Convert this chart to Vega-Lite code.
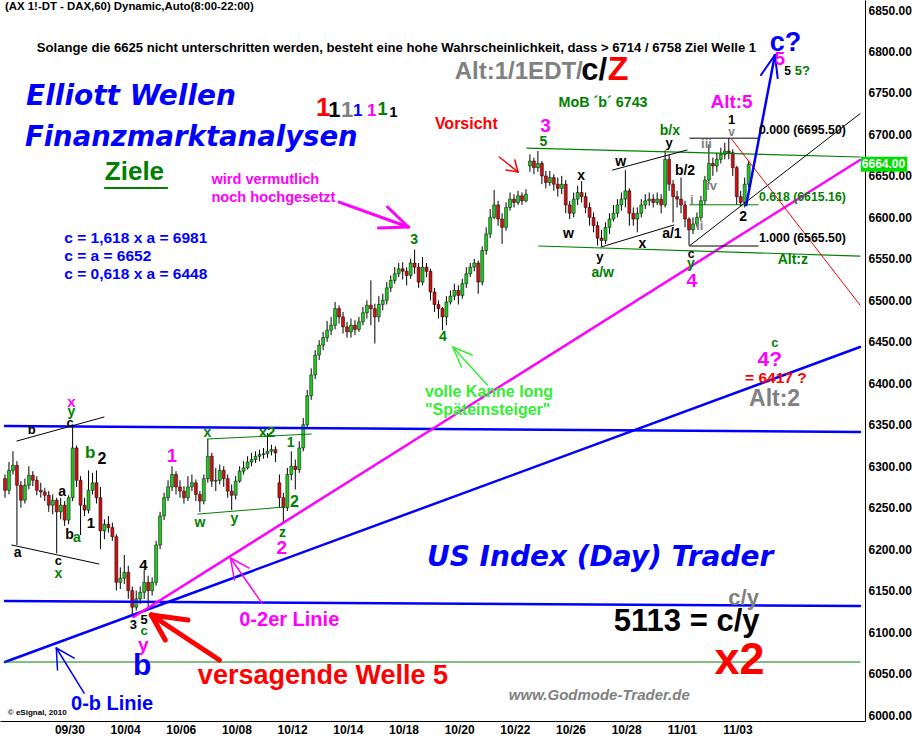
{
  "$schema": "https://vega.github.io/schema/vega-lite/v6.json",
  "width": 865,
  "height": 721,
  "autosize": "none",
  "padding": {"left": 0, "top": 0, "right": 50, "bottom": 18},
  "background": "#ffffff",
  "config": {"view": {"stroke": null}},
  "datasets": {
    "candles": [
      {"i":0,"o":6285,"h":6290,"l":6262,"c":6271},{"i":1,"o":6271,"h":6305,"l":6266,"c":6295},{"i":2,"o":6295,"h":6318,"l":6290,"c":6301},{"i":3,"o":6301,"h":6306,"l":6205,"c":6277},{"i":4,"o":6277,"h":6282,"l":6250,"c":6259},{"i":5,"o":6259,"h":6285,"l":6255,"c":6277},{"i":6,"o":6277,"h":6300,"l":6272,"c":6289},{"i":7,"o":6289,"h":6294,"l":6276,"c":6283},{"i":8,"o":6283,"h":6288,"l":6265,"c":6271},{"i":9,"o":6271,"h":6280,"l":6262,"c":6269},
      {"i":10,"o":6269,"h":6274,"l":6258,"c":6265},{"i":11,"o":6265,"h":6270,"l":6245,"c":6253},{"i":12,"o":6253,"h":6266,"l":6242,"c":6259},{"i":13,"o":6259,"h":6262,"l":6195,"c":6245},{"i":14,"o":6245,"h":6262,"l":6236,"c":6253},{"i":15,"o":6253,"h":6258,"l":6228,"c":6235},{"i":16,"o":6235,"h":6265,"l":6230,"c":6262},{"i":17,"o":6262,"h":6350,"l":6258,"c":6322},{"i":18,"o":6322,"h":6325,"l":6275,"c":6283},{"i":19,"o":6283,"h":6288,"l":6217,"c":6253},
      {"i":20,"o":6253,"h":6262,"l":6240,"c":6247},{"i":21,"o":6247,"h":6295,"l":6243,"c":6271},{"i":22,"o":6271,"h":6292,"l":6266,"c":6280},{"i":23,"o":6280,"h":6295,"l":6255,"c":6262},{"i":24,"o":6262,"h":6275,"l":6200,"c":6222},{"i":25,"o":6222,"h":6236,"l":6212,"c":6230},{"i":26,"o":6230,"h":6240,"l":6220,"c":6226},{"i":27,"o":6226,"h":6232,"l":6210,"c":6215},{"i":28,"o":6215,"h":6218,"l":6150,"c":6160},{"i":29,"o":6160,"h":6178,"l":6152,"c":6165},
      {"i":30,"o":6165,"h":6193,"l":6158,"c":6172},{"i":31,"o":6172,"h":6180,"l":6140,"c":6150},{"i":32,"o":6150,"h":6155,"l":6120,"c":6130},{"i":33,"o":6130,"h":6150,"l":6126,"c":6140},{"i":34,"o":6140,"h":6155,"l":6134,"c":6148},{"i":35,"o":6148,"h":6175,"l":6140,"c":6160},{"i":36,"o":6160,"h":6168,"l":6127,"c":6150},{"i":37,"o":6150,"h":6166,"l":6144,"c":6160},{"i":38,"o":6160,"h":6210,"l":6156,"c":6205},{"i":39,"o":6205,"h":6245,"l":6200,"c":6240},
      {"i":40,"o":6240,"h":6268,"l":6235,"c":6262},{"i":41,"o":6262,"h":6283,"l":6258,"c":6275},{"i":42,"o":6275,"h":6300,"l":6270,"c":6290},{"i":43,"o":6290,"h":6294,"l":6266,"c":6275},{"i":44,"o":6275,"h":6283,"l":6262,"c":6270},{"i":45,"o":6270,"h":6276,"l":6255,"c":6262},{"i":46,"o":6262,"h":6288,"l":6258,"c":6275},{"i":47,"o":6275,"h":6290,"l":6270,"c":6280},{"i":48,"o":6280,"h":6284,"l":6258,"c":6266},{"i":49,"o":6266,"h":6270,"l":6245,"c":6258},
      {"i":50,"o":6258,"h":6290,"l":6254,"c":6285},{"i":51,"o":6285,"h":6333,"l":6280,"c":6312},{"i":52,"o":6312,"h":6316,"l":6275,"c":6282},{"i":53,"o":6282,"h":6298,"l":6270,"c":6283},{"i":54,"o":6283,"h":6302,"l":6278,"c":6295},{"i":55,"o":6295,"h":6300,"l":6275,"c":6285},{"i":56,"o":6285,"h":6290,"l":6262,"c":6270},{"i":57,"o":6270,"h":6278,"l":6247,"c":6265},{"i":58,"o":6265,"h":6288,"l":6260,"c":6282},{"i":59,"o":6282,"h":6300,"l":6280,"c":6294},
      {"i":60,"o":6294,"h":6306,"l":6290,"c":6298},{"i":61,"o":6298,"h":6312,"l":6296,"c":6305},{"i":62,"o":6305,"h":6316,"l":6300,"c":6308},{"i":63,"o":6308,"h":6318,"l":6304,"c":6312},{"i":64,"o":6312,"h":6320,"l":6306,"c":6314},{"i":65,"o":6314,"h":6322,"l":6309,"c":6315},{"i":66,"o":6315,"h":6340,"l":6310,"c":6318},{"i":67,"o":6318,"h":6326,"l":6313,"c":6320},{"i":68,"o":6320,"h":6324,"l":6305,"c":6316},{"i":69,"o":6280,"h":6290,"l":6250,"c":6262},
      {"i":70,"o":6262,"h":6268,"l":6231,"c":6250},{"i":71,"o":6250,"h":6298,"l":6246,"c":6290},{"i":72,"o":6290,"h":6318,"l":6283,"c":6300},{"i":73,"o":6300,"h":6308,"l":6272,"c":6296},{"i":74,"o":6296,"h":6330,"l":6292,"c":6322},{"i":75,"o":6322,"h":6358,"l":6318,"c":6350},{"i":76,"o":6350,"h":6392,"l":6345,"c":6385},{"i":77,"o":6385,"h":6418,"l":6380,"c":6410},{"i":78,"o":6410,"h":6440,"l":6405,"c":6434},{"i":79,"o":6434,"h":6452,"l":6428,"c":6446},
      {"i":80,"o":6446,"h":6462,"l":6440,"c":6455},{"i":81,"o":6455,"h":6475,"l":6450,"c":6464},{"i":82,"o":6464,"h":6480,"l":6458,"c":6470},{"i":83,"o":6470,"h":6498,"l":6465,"c":6490},{"i":84,"o":6490,"h":6494,"l":6472,"c":6480},{"i":85,"o":6480,"h":6486,"l":6460,"c":6468},{"i":86,"o":6468,"h":6474,"l":6455,"c":6462},{"i":87,"o":6462,"h":6478,"l":6455,"c":6470},{"i":88,"o":6470,"h":6476,"l":6458,"c":6465},{"i":89,"o":6465,"h":6480,"l":6462,"c":6474},
      {"i":90,"o":6474,"h":6492,"l":6470,"c":6485},{"i":91,"o":6485,"h":6500,"l":6478,"c":6494},{"i":92,"o":6494,"h":6524,"l":6470,"c":6490},{"i":93,"o":6490,"h":6496,"l":6448,"c":6480},{"i":94,"o":6480,"h":6505,"l":6474,"c":6495},{"i":95,"o":6495,"h":6508,"l":6488,"c":6500},{"i":96,"o":6500,"h":6522,"l":6495,"c":6515},{"i":97,"o":6515,"h":6530,"l":6510,"c":6524},{"i":98,"o":6524,"h":6540,"l":6520,"c":6532},{"i":99,"o":6532,"h":6545,"l":6528,"c":6538},
      {"i":100,"o":6538,"h":6546,"l":6525,"c":6535},{"i":101,"o":6535,"h":6540,"l":6518,"c":6530},{"i":102,"o":6530,"h":6550,"l":6526,"c":6545},{"i":103,"o":6545,"h":6561,"l":6532,"c":6540},{"i":104,"o":6540,"h":6545,"l":6515,"c":6522},{"i":105,"o":6522,"h":6552,"l":6518,"c":6540},{"i":106,"o":6540,"h":6545,"l":6528,"c":6535},{"i":107,"o":6535,"h":6538,"l":6500,"c":6510},{"i":108,"o":6510,"h":6515,"l":6486,"c":6495},{"i":109,"o":6495,"h":6500,"l":6478,"c":6490},
      {"i":110,"o":6490,"h":6492,"l":6464,"c":6480},{"i":111,"o":6480,"h":6505,"l":6470,"c":6498},{"i":112,"o":6498,"h":6512,"l":6495,"c":6505},{"i":113,"o":6505,"h":6520,"l":6500,"c":6512},{"i":114,"o":6512,"h":6518,"l":6495,"c":6506},{"i":115,"o":6506,"h":6526,"l":6502,"c":6520},{"i":116,"o":6520,"h":6540,"l":6515,"c":6532},{"i":117,"o":6532,"h":6545,"l":6528,"c":6540},{"i":118,"o":6540,"h":6550,"l":6535,"c":6545},{"i":119,"o":6545,"h":6548,"l":6508,"c":6522},
      {"i":120,"o":6522,"h":6565,"l":6518,"c":6560},{"i":121,"o":6560,"h":6588,"l":6555,"c":6580},{"i":122,"o":6580,"h":6610,"l":6575,"c":6600},{"i":123,"o":6600,"h":6633,"l":6598,"c":6615},{"i":124,"o":6615,"h":6620,"l":6590,"c":6598},{"i":125,"o":6598,"h":6605,"l":6568,"c":6588},{"i":126,"o":6588,"h":6618,"l":6584,"c":6612},{"i":127,"o":6612,"h":6630,"l":6608,"c":6622},{"i":128,"o":6622,"h":6628,"l":6612,"c":6618},{"i":129,"o":6618,"h":6632,"l":6615,"c":6626},
      {"i":130,"o":6626,"h":6630,"l":6615,"c":6620},{"i":131,"o":6620,"h":6634,"l":6618,"c":6628},{"i":132,"o":6662,"h":6676,"l":6655,"c":6668},{"i":133,"o":6668,"h":6672,"l":6652,"c":6660},{"i":134,"o":6660,"h":6680,"l":6655,"c":6665},{"i":135,"o":6665,"h":6668,"l":6640,"c":6650},{"i":136,"o":6650,"h":6656,"l":6635,"c":6642},{"i":137,"o":6642,"h":6656,"l":6638,"c":6648},{"i":138,"o":6648,"h":6652,"l":6632,"c":6640},{"i":139,"o":6640,"h":6648,"l":6625,"c":6635},
      {"i":140,"o":6635,"h":6650,"l":6628,"c":6640},{"i":141,"o":6640,"h":6645,"l":6605,"c":6615},{"i":142,"o":6615,"h":6620,"l":6598,"c":6605},{"i":143,"o":6605,"h":6630,"l":6600,"c":6622},{"i":144,"o":6622,"h":6638,"l":6615,"c":6630},{"i":145,"o":6630,"h":6644,"l":6618,"c":6625},{"i":146,"o":6625,"h":6630,"l":6605,"c":6612},{"i":147,"o":6612,"h":6618,"l":6590,"c":6600},{"i":148,"o":6600,"h":6606,"l":6582,"c":6590},{"i":149,"o":6590,"h":6595,"l":6566,"c":6575},
      {"i":150,"o":6575,"h":6585,"l":6565,"c":6572},{"i":151,"o":6572,"h":6594,"l":6568,"c":6588},{"i":152,"o":6588,"h":6605,"l":6580,"c":6598},{"i":153,"o":6598,"h":6615,"l":6595,"c":6605},{"i":154,"o":6605,"h":6622,"l":6600,"c":6615},{"i":155,"o":6615,"h":6630,"l":6608,"c":6622},{"i":156,"o":6622,"h":6657,"l":6612,"c":6632},{"i":157,"o":6632,"h":6635,"l":6590,"c":6605},{"i":158,"o":6605,"h":6612,"l":6590,"c":6598},{"i":159,"o":6598,"h":6612,"l":6582,"c":6605},
      {"i":160,"o":6605,"h":6622,"l":6600,"c":6615},{"i":161,"o":6615,"h":6628,"l":6610,"c":6620},{"i":162,"o":6620,"h":6630,"l":6614,"c":6622},{"i":163,"o":6622,"h":6628,"l":6612,"c":6618},{"i":164,"o":6618,"h":6630,"l":6615,"c":6622},{"i":165,"o":6622,"h":6628,"l":6605,"c":6615},{"i":166,"o":6615,"h":6681,"l":6612,"c":6670},{"i":167,"o":6670,"h":6676,"l":6632,"c":6640},{"i":168,"o":6640,"h":6645,"l":6594,"c":6625},{"i":169,"o":6625,"h":6632,"l":6612,"c":6622},
      {"i":170,"o":6622,"h":6648,"l":6605,"c":6615},{"i":171,"o":6615,"h":6620,"l":6588,"c":6598},{"i":172,"o":6598,"h":6600,"l":6566,"c":6585},{"i":173,"o":6585,"h":6600,"l":6580,"c":6592},{"i":174,"o":6592,"h":6606,"l":6588,"c":6600},{"i":175,"o":6600,"h":6626,"l":6596,"c":6620},{"i":176,"o":6620,"h":6650,"l":6615,"c":6645},{"i":177,"o":6645,"h":6688,"l":6640,"c":6665},{"i":178,"o":6665,"h":6672,"l":6650,"c":6662},{"i":179,"o":6662,"h":6678,"l":6655,"c":6670},
      {"i":180,"o":6670,"h":6684,"l":6665,"c":6676},{"i":181,"o":6676,"h":6690,"l":6670,"c":6680},{"i":182,"o":6680,"h":6695.5,"l":6670,"c":6678},{"i":183,"o":6678,"h":6682,"l":6650,"c":6660},{"i":184,"o":6660,"h":6662,"l":6615,"c":6625},{"i":185,"o":6625,"h":6632,"l":6613,"c":6618},{"i":186,"o":6618,"h":6648,"l":6612,"c":6640},{"i":187,"o":6640,"h":6668,"l":6636,"c":6664}
    ],
    "lines": [
      {"x1":0,"y1":6348.4,"x2":215,"y2":6341.2,"col":"#0000ff","w":2.5},
      {"x1":0,"y1":6137.4,"x2":215,"y2":6131.4,"col":"#0000ff","w":2.5},
      {"x1":0,"y1":6063.9,"x2":215,"y2":6443.7,"col":"#0000ff","w":2.5},
      {"x1":32.3,"y1":6118.2,"x2":215,"y2":6669.2,"col":"#ff00ff","w":2.5},
      {"x1":0,"y1":6063.9,"x2":215,"y2":6063.9,"col":"#008000","w":1},
      {"x1":131.2,"y1":6683.6,"x2":215,"y2":6672.8,"col":"#008000","w":1.2},
      {"x1":134.2,"y1":6565.5,"x2":215,"y2":6553.4,"col":"#008000","w":1.2},
      {"x1":172.2,"y1":6695.5,"x2":189.4,"y2":6695.5,"col":"#000000","w":1},
      {"x1":172.2,"y1":6565.5,"x2":189.4,"y2":6565.5,"col":"#000000","w":1},
      {"x1":172.2,"y1":6615.2,"x2":189.4,"y2":6615.2,"col":"#008000","w":1},
      {"x1":172.2,"y1":6566,"x2":215,"y2":6725,"col":"#000000","w":1},
      {"x1":182.7,"y1":6694.5,"x2":215,"y2":6494.3,"col":"#ff0000","w":1},
      {"x1":186.4,"y1":6614.9,"x2":193.6,"y2":6795.8,"col":"#0000ff","w":2.5},
      {"x1":193.6,"y1":6795.8,"x2":190.1,"y2":6771.6,"col":"#0000ff","w":2},
      {"x1":193.6,"y1":6795.8,"x2":194.3,"y2":6768.0,"col":"#0000ff","w":2},
      {"x1":84.0,"y1":6618.5,"x2":101.4,"y2":6588.4,"col":"#ff00ff","w":3},
      {"x1":101.4,"y1":6588.4,"x2":96.2,"y2":6612.5,"col":"#ff00ff","w":3},
      {"x1":101.4,"y1":6588.4,"x2":93.9,"y2":6587.2,"col":"#ff00ff","w":3},
      {"x1":124.3,"y1":6672.8,"x2":129.0,"y2":6654.7,"col":"#ff0000","w":1.5},
      {"x1":129.0,"y1":6654.7,"x2":126.0,"y2":6657.1,"col":"#ff0000","w":1.5},
      {"x1":129.0,"y1":6654.7,"x2":128.2,"y2":6669.2,"col":"#ff0000","w":1.5},
      {"x1":121.3,"y1":6397.9,"x2":112.6,"y2":6443.7,"col":"#33ee33","w":1.5},
      {"x1":112.6,"y1":6443.7,"x2":117.5,"y2":6434.1,"col":"#33ee33","w":1.5},
      {"x1":112.6,"y1":6443.7,"x2":114.8,"y2":6419.6,"col":"#33ee33","w":1.5},
      {"x1":64.6,"y1":6135.0,"x2":56.7,"y2":6189.3,"col":"#ff00ff","w":1.5},
      {"x1":56.7,"y1":6189.3,"x2":61.4,"y2":6177.2,"col":"#ff00ff","w":1.5},
      {"x1":56.7,"y1":6189.3,"x2":57.7,"y2":6162.8,"col":"#ff00ff","w":1.5},
      {"x1":53.9,"y1":6066.3,"x2":36.8,"y2":6120.6,"col":"#ff0000","w":5},
      {"x1":36.8,"y1":6120.6,"x2":46.0,"y2":6114.5,"col":"#ff0000","w":5},
      {"x1":36.8,"y1":6120.6,"x2":40.3,"y2":6090.4,"col":"#ff0000","w":5},
      {"x1":19.9,"y1":6026.5,"x2":12.9,"y2":6080.8,"col":"#0000ff","w":1.5},
      {"x1":12.9,"y1":6080.8,"x2":17.4,"y2":6068.7,"col":"#0000ff","w":1.5},
      {"x1":12.9,"y1":6080.8,"x2":13.2,"y2":6054.3,"col":"#0000ff","w":1.5},
      {"x1":3.0,"y1":6330.4,"x2":24.9,"y2":6359.3,"col":"#000000","w":1},
      {"x1":1.7,"y1":6205.0,"x2":23.6,"y2":6182.1,"col":"#000000","w":1},
      {"x1":152.8,"y1":6657.1,"x2":171.5,"y2":6681.2,"col":"#000000","w":1},
      {"x1":149.9,"y1":6564.3,"x2":168.2,"y2":6590.8,"col":"#000000","w":1},
      {"x1":50.9,"y1":6332.8,"x2":77.0,"y2":6338.8,"col":"#008000","w":1},
      {"x1":48.5,"y1":6242.3,"x2":70.3,"y2":6250.8,"col":"#008000","w":1},
      {"x1":25.1,"y1":6635.4,"x2":40.8,"y2":6635.4,"col":"#008000","w":2}
    ],
    "tc": [
      {"i":80.0,"v":6731.9,"t":"1","c":"#ff0000","s":26},
      {"i":82.8,"v":6729.4,"t":"1","c":"#000000","s":22},
      {"i":86.0,"v":6729.4,"t":"1","c":"#808080","s":22},
      {"i":88.7,"v":6728.2,"t":"1","c":"#0000ff","s":17},
      {"i":92.2,"v":6728.2,"t":"1","c":"#ff00ff","s":17},
      {"i":94.9,"v":6729.4,"t":"1","c":"#008000","s":18},
      {"i":97.7,"v":6727.0,"t":"1","c":"#000000","s":15},
      {"i":16.7,"v":6377.4,"t":"x","c":"#ff00ff","s":15},
      {"i":16.7,"v":6365.3,"t":"y","c":"#008000","s":14},
      {"i":16.4,"v":6352.1,"t":"c","c":"#000000","s":13},
      {"i":6.7,"v":6343.6,"t":"b","c":"#000000","s":13},
      {"i":21.4,"v":6315.9,"t":"b","c":"#008000","s":17},
      {"i":24.4,"v":6308.7,"t":"2","c":"#000000","s":16},
      {"i":14.4,"v":6268.9,"t":"a","c":"#000000","s":14},
      {"i":21.6,"v":6231.5,"t":"1","c":"#000000","s":15},
      {"i":16.2,"v":6217.0,"t":"b","c":"#000000","s":14},
      {"i":18.1,"v":6213.4,"t":"a","c":"#008000","s":14},
      {"i":3.2,"v":6195.3,"t":"a","c":"#000000","s":14},
      {"i":13.4,"v":6185.7,"t":"c","c":"#000000","s":13},
      {"i":13.4,"v":6170.0,"t":"x","c":"#008000","s":14},
      {"i":34.8,"v":6180.9,"t":"4","c":"#000000","s":15},
      {"i":32.3,"v":6108.5,"t":"3","c":"#000000","s":13},
      {"i":35.0,"v":6114.5,"t":"5","c":"#000000","s":13},
      {"i":35.0,"v":6101.3,"t":"c","c":"#008000","s":13},
      {"i":34.8,"v":6084.4,"t":"y","c":"#ff00ff","s":19},
      {"i":34.5,"v":6059.1,"t":"b","c":"#0000ff","s":30},
      {"i":42.0,"v":6311.1,"t":"1","c":"#ff00ff","s":18},
      {"i":50.9,"v":6340.0,"t":"x","c":"#008000","s":14},
      {"i":49.0,"v":6231.5,"t":"w","c":"#008000","s":14},
      {"i":57.7,"v":6236.3,"t":"y","c":"#008000","s":14},
      {"i":65.9,"v":6341.2,"t":"x2","c":"#008000","s":15},
      {"i":71.8,"v":6327.9,"t":"1","c":"#008000","s":14},
      {"i":72.8,"v":6256.8,"t":"2","c":"#008000","s":16},
      {"i":69.8,"v":6219.4,"t":"z","c":"#008000","s":14},
      {"i":69.6,"v":6201.4,"t":"2","c":"#ff00ff","s":19},
      {"i":102.9,"v":6572.7,"t":"3","c":"#008000","s":14},
      {"i":110.1,"v":6455.8,"t":"4","c":"#008000","s":14},
      {"i":135.9,"v":6710.2,"t":"3","c":"#ff00ff","s":19},
      {"i":135.4,"v":6690.9,"t":"5","c":"#008000","s":14},
      {"i":144.9,"v":6649.9,"t":"x","c":"#000000","s":14},
      {"i":141.7,"v":6579.9,"t":"w","c":"#000000","s":14},
      {"i":154.8,"v":6666.7,"t":"w","c":"#000000","s":14},
      {"i":167.2,"v":6704.1,"t":"b/x","c":"#008000","s":14},
      {"i":167.0,"v":6689.7,"t":"y","c":"#000000","s":13},
      {"i":171.0,"v":6655.9,"t":"b/2","c":"#000000","s":14},
      {"i":176.4,"v":6688.5,"t":"iii","c":"#808080","s":13},
      {"i":182.7,"v":6717.4,"t":"1","c":"#000000","s":13},
      {"i":182.7,"v":6702.9,"t":"v","c":"#808080","s":12},
      {"i":177.7,"v":6637.8,"t":"iv","c":"#808080","s":13},
      {"i":172.7,"v":6620.9,"t":"i","c":"#808080","s":13},
      {"i":174.7,"v":6589.6,"t":"ii","c":"#808080","s":13},
      {"i":185.6,"v":6600.4,"t":"2","c":"#000000","s":14},
      {"i":167.7,"v":6579.9,"t":"a/1","c":"#000000","s":14},
      {"i":160.3,"v":6567.9,"t":"x","c":"#000000","s":14},
      {"i":149.6,"v":6552.2,"t":"y","c":"#000000","s":13},
      {"i":150.3,"v":6532.9,"t":"a/w","c":"#008000","s":14},
      {"i":172.5,"v":6555.8,"t":"c","c":"#000000","s":12},
      {"i":172.5,"v":6543.8,"t":"y","c":"#008000","s":14},
      {"i":172.7,"v":6523.3,"t":"4","c":"#ff00ff","s":19},
      {"i":194.8,"v":6790.9,"t":"5","c":"#ff00ff","s":19},
      {"i":196.8,"v":6776.5,"t":"5","c":"#000000","s":12},
      {"i":200.5,"v":6776.5,"t":"5?","c":"#008000","s":13},
      {"i":193.6,"v":6448.5,"t":"c","c":"#008000","s":13},
      {"i":192.3,"v":6428.0,"t":"4?","c":"#ff00ff","s":21},
      {"i":182.7,"v":6739.1,"t":"Alt:5","c":"#ff00ff","s":19}
    ],
    "tl": [
      {"i":0.0,"v":6853.6,"t":"(AX 1!-DT - DAX,60) Dynamic,Auto(8:00-22:00)","c":"#000000","s":11.4},
      {"i":8.0,"v":6804.2,"t":"Solange die 6625 nicht unterschritten werden, besteht eine hohe Wahrscheinlichkeit, dass > 6714 / 6758 Ziel Welle 1","c":"#000000","s":13.1},
      {"i":14.9,"v":6575.1,"t":"c = 1,618 x a = 6981","c":"#0000ff","s":15.5},
      {"i":14.9,"v":6553.4,"t":"c = a = 6652","c":"#0000ff","s":15.5},
      {"i":14.9,"v":6531.7,"t":"c = 0,618 x a = 6448","c":"#0000ff","s":15.5},
      {"i":51.9,"v":6645.0,"t":"wird vermutlich","c":"#ff00ff","s":14.6},
      {"i":51.9,"v":6623.3,"t":"noch hochgesetzt","c":"#ff00ff","s":14.6},
      {"i":108.1,"v":6712.6,"t":"Vorsicht","c":"#ff0000","s":16},
      {"i":113.1,"v":6775.3,"t":"Alt:1/1EDT/","c":"#808080","s":24},
      {"i":144.9,"v":6776.5,"t":"c/","c":"#000000","s":31},
      {"i":151.6,"v":6777.7,"t":"Z","c":"#ff0000","s":34},
      {"i":139.2,"v":6737.9,"t":"MoB ´b´ 6743","c":"#008000","s":14.3},
      {"i":189.6,"v":6705.3,"t":"0.000 (6695.50)","c":"#000000","s":12.3},
      {"i":189.6,"v":6624.6,"t":"0.618 (6615.16)","c":"#008000","s":12.3},
      {"i":189.6,"v":6575.1,"t":"1.000 (6565.50)","c":"#000000","s":12.3},
      {"i":105.6,"v":6389.4,"t":"volle Kanne long","c":"#33ee33","s":16},
      {"i":105.6,"v":6367.7,"t":"\"Späteinsteiger\"","c":"#33ee33","s":16},
      {"i":58.9,"v":6114.5,"t":"0-2er Linie","c":"#ff00ff","s":20},
      {"i":48.5,"v":6047.0,"t":"versagende Welle 5","c":"#ff0000","s":27},
      {"i":16.6,"v":6013.3,"t":"0-b Linie","c":"#0000ff","s":20},
      {"i":0.7,"v":6002.4,"t":"© eSignal, 2010","c":"#000000","s":8},
      {"i":153.1,"v":6112.1,"t":"5113 = c/y","c":"#000000","s":31},
      {"i":178.4,"v":6066.3,"t":"x2","c":"#ff0000","s":45},
      {"i":25.1,"v":6654.7,"t":"Ziele","c":"#008000","s":26},
      {"i":181.9,"v":6141.1,"t":"c/y","c":"#808080","s":22},
      {"i":186.1,"v":6406.3,"t":"= 6417 ?","c":"#ff0000","s":15.5},
      {"i":187.1,"v":6381.0,"t":"Alt:2","c":"#808080","s":23},
      {"i":192.3,"v":6810.2,"t":"c?","c":"#0000ff","s":27},
      {"i":194.3,"v":6548.6,"t":"Alt:z","c":"#008000","s":14}
    ],
    "tbi": [
      {"i":5.3,"v":6745.1,"t":"Elliott Wellen","c":"#0000ff","s":28},
      {"i":5.0,"v":6695.7,"t":"Finanzmarktanalysen","c":"#0000ff","s":27.5},
      {"i":106.1,"v":6189.3,"t":"US Index (Day) Trader","c":"#0000ff","s":28}
    ],
    "tw": [
      {"i":126.7,"v":6024.1,"t":"www.Godmode-Trader.de","c":"#808080","s":15}
    ],
    "tag": [
      {"i":215.2,"i2":226.9,"v1":6655,"v2":6673,"v":6664,"t":"6664.00"}
    ]
  },
  "layer": [
    {
      "data": {"name": "candles"},
      "mark": {"type": "rule", "color": "#000000", "strokeWidth": 1},
      "encoding": {
        "x": {"field": "i", "type": "quantitative", "scale": {"domain": [0, 215], "nice": false, "zero": false},
          "axis": {"title": null, "values": [16.2,30.2,44.2,58.2,72.2,86.2,100.2,114.2,128.2,142.2,156.2,170.2,184.2], "labelExpr": "['09/30','10/04','10/06','10/08','10/12','10/14','10/18','10/20','10/22','10/26','10/28','11/01','11/03'][round((datum.value-16.2)/14)]", "ticks": false, "grid": false, "domainColor": "#000000", "domainWidth": 1, "labelFont": "Liberation Sans", "labelFontWeight": "bold", "labelFontSize": 12, "labelColor": "#000000", "labelPadding": 3, "labelFlush": false, "labelOverlap": false}},
        "y": {"field": "l", "type": "quantitative", "scale": {"domain": [5992.8, 6862.1], "nice": false, "zero": false},
          "axis": {"title": null, "orient": "right", "values": [6000,6050,6100,6150,6200,6250,6300,6350,6400,6450,6500,6550,6600,6650,6700,6750,6800,6850], "format": ".2f", "ticks": false, "grid": false, "domainColor": "#000000", "domainWidth": 1, "labelFont": "Liberation Sans", "labelFontWeight": "bold", "labelFontSize": 12, "labelColor": "#000000", "labelPadding": 3, "labelFlush": false, "labelOverlap": false}},
        "y2": {"field": "h"}
      }
    },
    {
      "data": {"name": "candles"},
      "mark": {"type": "bar", "size": 3, "stroke": "#000000", "strokeWidth": 0.5},
      "encoding": {
        "x": {"field": "i", "type": "quantitative", "scale": {"domain": [0, 215], "nice": false, "zero": false},
          "axis": {"title": null, "values": [16.2,30.2,44.2,58.2,72.2,86.2,100.2,114.2,128.2,142.2,156.2,170.2,184.2], "labelExpr": "['09/30','10/04','10/06','10/08','10/12','10/14','10/18','10/20','10/22','10/26','10/28','11/01','11/03'][round((datum.value-16.2)/14)]", "ticks": false, "grid": false, "domainColor": "#000000", "domainWidth": 1, "labelFont": "Liberation Sans", "labelFontWeight": "bold", "labelFontSize": 12, "labelColor": "#000000", "labelPadding": 3, "labelFlush": false, "labelOverlap": false}},
        "y": {"field": "o", "type": "quantitative", "scale": {"domain": [5992.8, 6862.1], "nice": false, "zero": false},
          "axis": {"title": null, "orient": "right", "values": [6000,6050,6100,6150,6200,6250,6300,6350,6400,6450,6500,6550,6600,6650,6700,6750,6800,6850], "format": ".2f", "ticks": false, "grid": false, "domainColor": "#000000", "domainWidth": 1, "labelFont": "Liberation Sans", "labelFontWeight": "bold", "labelFontSize": 12, "labelColor": "#000000", "labelPadding": 3, "labelFlush": false, "labelOverlap": false}},
        "y2": {"field": "c"},
        "fill": {"condition": {"test": "datum.c >= datum.o", "value": "#22c822"}, "value": "#d01010"}
      }
    },
    {
      "data": {"name": "lines"},
      "mark": {"type": "rule", "strokeCap": "round"},
      "encoding": {
        "x": {"field": "x1", "type": "quantitative", "scale": {"domain": [0, 215], "nice": false, "zero": false},
          "axis": {"title": null, "values": [16.2,30.2,44.2,58.2,72.2,86.2,100.2,114.2,128.2,142.2,156.2,170.2,184.2], "labelExpr": "['09/30','10/04','10/06','10/08','10/12','10/14','10/18','10/20','10/22','10/26','10/28','11/01','11/03'][round((datum.value-16.2)/14)]", "ticks": false, "grid": false, "domainColor": "#000000", "domainWidth": 1, "labelFont": "Liberation Sans", "labelFontWeight": "bold", "labelFontSize": 12, "labelColor": "#000000", "labelPadding": 3, "labelFlush": false, "labelOverlap": false}},
        "y": {"field": "y1", "type": "quantitative", "scale": {"domain": [5992.8, 6862.1], "nice": false, "zero": false},
          "axis": {"title": null, "orient": "right", "values": [6000,6050,6100,6150,6200,6250,6300,6350,6400,6450,6500,6550,6600,6650,6700,6750,6800,6850], "format": ".2f", "ticks": false, "grid": false, "domainColor": "#000000", "domainWidth": 1, "labelFont": "Liberation Sans", "labelFontWeight": "bold", "labelFontSize": 12, "labelColor": "#000000", "labelPadding": 3, "labelFlush": false, "labelOverlap": false}},
        "x2": {"field": "x2"},
        "y2": {"field": "y2"},
        "color": {"field": "col", "type": "nominal", "scale": null},
        "strokeWidth": {"field": "w", "type": "quantitative", "scale": null}
      }
    },
    {
      "data": {"name": "tc"},
      "mark": {"type": "text", "align": "center", "baseline": "middle", "font": "Liberation Sans", "fontWeight": "bold"},
      "encoding": {
        "x": {"field": "i", "type": "quantitative", "scale": {"domain": [0, 215], "nice": false, "zero": false},
          "axis": {"title": null, "values": [16.2,30.2,44.2,58.2,72.2,86.2,100.2,114.2,128.2,142.2,156.2,170.2,184.2], "labelExpr": "['09/30','10/04','10/06','10/08','10/12','10/14','10/18','10/20','10/22','10/26','10/28','11/01','11/03'][round((datum.value-16.2)/14)]", "ticks": false, "grid": false, "domainColor": "#000000", "domainWidth": 1, "labelFont": "Liberation Sans", "labelFontWeight": "bold", "labelFontSize": 12, "labelColor": "#000000", "labelPadding": 3, "labelFlush": false, "labelOverlap": false}},
        "y": {"field": "v", "type": "quantitative", "scale": {"domain": [5992.8, 6862.1], "nice": false, "zero": false},
          "axis": {"title": null, "orient": "right", "values": [6000,6050,6100,6150,6200,6250,6300,6350,6400,6450,6500,6550,6600,6650,6700,6750,6800,6850], "format": ".2f", "ticks": false, "grid": false, "domainColor": "#000000", "domainWidth": 1, "labelFont": "Liberation Sans", "labelFontWeight": "bold", "labelFontSize": 12, "labelColor": "#000000", "labelPadding": 3, "labelFlush": false, "labelOverlap": false}},
        "text": {"field": "t"},
        "color": {"field": "c", "type": "nominal", "scale": null},
        "size": {"field": "s", "type": "quantitative", "scale": null}
      }
    },
    {
      "data": {"name": "tl"},
      "mark": {"type": "text", "align": "left", "baseline": "middle", "font": "Liberation Sans", "fontWeight": "bold"},
      "encoding": {
        "x": {"field": "i", "type": "quantitative", "scale": {"domain": [0, 215], "nice": false, "zero": false},
          "axis": {"title": null, "values": [16.2,30.2,44.2,58.2,72.2,86.2,100.2,114.2,128.2,142.2,156.2,170.2,184.2], "labelExpr": "['09/30','10/04','10/06','10/08','10/12','10/14','10/18','10/20','10/22','10/26','10/28','11/01','11/03'][round((datum.value-16.2)/14)]", "ticks": false, "grid": false, "domainColor": "#000000", "domainWidth": 1, "labelFont": "Liberation Sans", "labelFontWeight": "bold", "labelFontSize": 12, "labelColor": "#000000", "labelPadding": 3, "labelFlush": false, "labelOverlap": false}},
        "y": {"field": "v", "type": "quantitative", "scale": {"domain": [5992.8, 6862.1], "nice": false, "zero": false},
          "axis": {"title": null, "orient": "right", "values": [6000,6050,6100,6150,6200,6250,6300,6350,6400,6450,6500,6550,6600,6650,6700,6750,6800,6850], "format": ".2f", "ticks": false, "grid": false, "domainColor": "#000000", "domainWidth": 1, "labelFont": "Liberation Sans", "labelFontWeight": "bold", "labelFontSize": 12, "labelColor": "#000000", "labelPadding": 3, "labelFlush": false, "labelOverlap": false}},
        "text": {"field": "t"},
        "color": {"field": "c", "type": "nominal", "scale": null},
        "size": {"field": "s", "type": "quantitative", "scale": null}
      }
    },
    {
      "data": {"name": "tbi"},
      "mark": {"type": "text", "align": "left", "baseline": "middle", "font": "DejaVu Sans", "fontWeight": "bold", "fontStyle": "italic"},
      "encoding": {
        "x": {"field": "i", "type": "quantitative", "scale": {"domain": [0, 215], "nice": false, "zero": false},
          "axis": {"title": null, "values": [16.2,30.2,44.2,58.2,72.2,86.2,100.2,114.2,128.2,142.2,156.2,170.2,184.2], "labelExpr": "['09/30','10/04','10/06','10/08','10/12','10/14','10/18','10/20','10/22','10/26','10/28','11/01','11/03'][round((datum.value-16.2)/14)]", "ticks": false, "grid": false, "domainColor": "#000000", "domainWidth": 1, "labelFont": "Liberation Sans", "labelFontWeight": "bold", "labelFontSize": 12, "labelColor": "#000000", "labelPadding": 3, "labelFlush": false, "labelOverlap": false}},
        "y": {"field": "v", "type": "quantitative", "scale": {"domain": [5992.8, 6862.1], "nice": false, "zero": false},
          "axis": {"title": null, "orient": "right", "values": [6000,6050,6100,6150,6200,6250,6300,6350,6400,6450,6500,6550,6600,6650,6700,6750,6800,6850], "format": ".2f", "ticks": false, "grid": false, "domainColor": "#000000", "domainWidth": 1, "labelFont": "Liberation Sans", "labelFontWeight": "bold", "labelFontSize": 12, "labelColor": "#000000", "labelPadding": 3, "labelFlush": false, "labelOverlap": false}},
        "text": {"field": "t"},
        "color": {"field": "c", "type": "nominal", "scale": null},
        "size": {"field": "s", "type": "quantitative", "scale": null}
      }
    },
    {
      "data": {"name": "tw"},
      "mark": {"type": "text", "align": "left", "baseline": "middle", "font": "Liberation Sans", "fontWeight": "bold", "fontStyle": "italic"},
      "encoding": {
        "x": {"field": "i", "type": "quantitative", "scale": {"domain": [0, 215], "nice": false, "zero": false},
          "axis": {"title": null, "values": [16.2,30.2,44.2,58.2,72.2,86.2,100.2,114.2,128.2,142.2,156.2,170.2,184.2], "labelExpr": "['09/30','10/04','10/06','10/08','10/12','10/14','10/18','10/20','10/22','10/26','10/28','11/01','11/03'][round((datum.value-16.2)/14)]", "ticks": false, "grid": false, "domainColor": "#000000", "domainWidth": 1, "labelFont": "Liberation Sans", "labelFontWeight": "bold", "labelFontSize": 12, "labelColor": "#000000", "labelPadding": 3, "labelFlush": false, "labelOverlap": false}},
        "y": {"field": "v", "type": "quantitative", "scale": {"domain": [5992.8, 6862.1], "nice": false, "zero": false},
          "axis": {"title": null, "orient": "right", "values": [6000,6050,6100,6150,6200,6250,6300,6350,6400,6450,6500,6550,6600,6650,6700,6750,6800,6850], "format": ".2f", "ticks": false, "grid": false, "domainColor": "#000000", "domainWidth": 1, "labelFont": "Liberation Sans", "labelFontWeight": "bold", "labelFontSize": 12, "labelColor": "#000000", "labelPadding": 3, "labelFlush": false, "labelOverlap": false}},
        "text": {"field": "t"},
        "color": {"field": "c", "type": "nominal", "scale": null},
        "size": {"field": "s", "type": "quantitative", "scale": null}
      }
    },
    {
      "data": {"name": "tag"},
      "mark": {"type": "rect", "fill": "#00dd00"},
      "encoding": {
        "x": {"field": "i", "type": "quantitative", "scale": {"domain": [0, 215], "nice": false, "zero": false},
          "axis": {"title": null, "values": [16.2,30.2,44.2,58.2,72.2,86.2,100.2,114.2,128.2,142.2,156.2,170.2,184.2], "labelExpr": "['09/30','10/04','10/06','10/08','10/12','10/14','10/18','10/20','10/22','10/26','10/28','11/01','11/03'][round((datum.value-16.2)/14)]", "ticks": false, "grid": false, "domainColor": "#000000", "domainWidth": 1, "labelFont": "Liberation Sans", "labelFontWeight": "bold", "labelFontSize": 12, "labelColor": "#000000", "labelPadding": 3, "labelFlush": false, "labelOverlap": false}},
        "x2": {"field": "i2"},
        "y": {"field": "v1", "type": "quantitative", "scale": {"domain": [5992.8, 6862.1], "nice": false, "zero": false},
          "axis": {"title": null, "orient": "right", "values": [6000,6050,6100,6150,6200,6250,6300,6350,6400,6450,6500,6550,6600,6650,6700,6750,6800,6850], "format": ".2f", "ticks": false, "grid": false, "domainColor": "#000000", "domainWidth": 1, "labelFont": "Liberation Sans", "labelFontWeight": "bold", "labelFontSize": 12, "labelColor": "#000000", "labelPadding": 3, "labelFlush": false, "labelOverlap": false}},
        "y2": {"field": "v2"}
      }
    },
    {
      "data": {"name": "tag"},
      "mark": {"type": "text", "align": "left", "baseline": "middle", "font": "Liberation Sans", "fontWeight": "bold", "fontSize": 12, "color": "#ffffff", "dx": 1},
      "encoding": {
        "x": {"field": "i", "type": "quantitative", "scale": {"domain": [0, 215], "nice": false, "zero": false},
          "axis": {"title": null, "values": [16.2,30.2,44.2,58.2,72.2,86.2,100.2,114.2,128.2,142.2,156.2,170.2,184.2], "labelExpr": "['09/30','10/04','10/06','10/08','10/12','10/14','10/18','10/20','10/22','10/26','10/28','11/01','11/03'][round((datum.value-16.2)/14)]", "ticks": false, "grid": false, "domainColor": "#000000", "domainWidth": 1, "labelFont": "Liberation Sans", "labelFontWeight": "bold", "labelFontSize": 12, "labelColor": "#000000", "labelPadding": 3, "labelFlush": false, "labelOverlap": false}},
        "y": {"field": "v", "type": "quantitative", "scale": {"domain": [5992.8, 6862.1], "nice": false, "zero": false},
          "axis": {"title": null, "orient": "right", "values": [6000,6050,6100,6150,6200,6250,6300,6350,6400,6450,6500,6550,6600,6650,6700,6750,6800,6850], "format": ".2f", "ticks": false, "grid": false, "domainColor": "#000000", "domainWidth": 1, "labelFont": "Liberation Sans", "labelFontWeight": "bold", "labelFontSize": 12, "labelColor": "#000000", "labelPadding": 3, "labelFlush": false, "labelOverlap": false}},
        "text": {"field": "t"}
      }
    }
  ]
}
